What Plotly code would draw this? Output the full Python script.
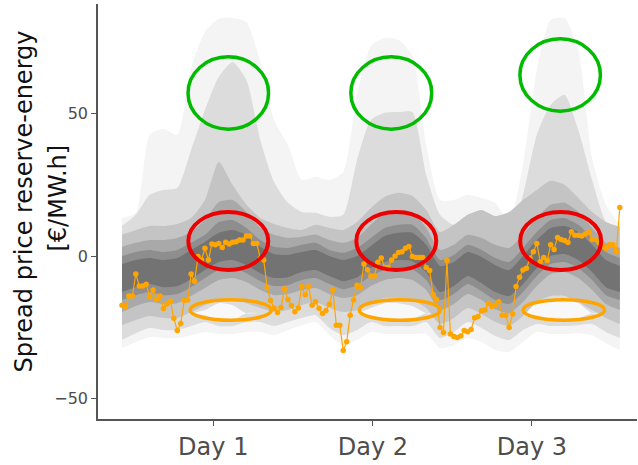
import numpy as np
import plotly.graph_objects as go

# ---- time axes (hours) ----
band_hours = list(range(0, 73, 2))
obs_hours = [i * 0.5 for i in range(145)]

# ---- quantile band boundaries (€/MW.h) ----
q_top_1 = [13.3, 15.1, 42.4, 44.5, 42.4, 65.8, 78.4, 83.0, 83.3, 81.9, 67.9, 47.6, 38.9, 26.6, 27.7, 26.6, 29.4, 56.4, 73.5,
           76.3, 75.6, 70.0, 38.9, 19.6, 19.6, 21.4, 20.3, 18.6, 11.9, 31.9, 65.1, 82.6, 83.3, 72.1, 34.3, 17.9, 10.9]
q_top_2 = [10.5, 14.4, 21.4, 23.1, 23.8, 37.1, 51.1, 62.7, 67.9, 61.6, 40.6, 25.9, 18.6, 15.4, 15.1, 13.7, 14.4, 33.6, 47.6,
           50.1, 50.4, 50.4, 28.4, 14.4, 10.9, 14.4, 15.4, 11.9, 7.4, 21.4, 42.4, 52.9, 56.4, 44.1, 26.6, 11.9, 8.1]
q_top_3 = [7.4, 9.1, 10.5, 10.5, 11.2, 13.3, 19.6, 32.9, 24.9, 17.9, 13.3, 11.2, 9.8, 9.1, 10.9, 9.8, 9.1, 11.9, 16.8,
           20.7, 22.1, 21.0, 16.1, 8.4, 10.9, 14.4, 16.1, 14.0, 15.4, 19.6, 23.1, 26.3, 24.9, 20.3, 15.4, 11.9, 10.2]
q_top_4 = [3.2, 4.6, 5.6, 5.6, 6.3, 8.4, 12.6, 18.9, 19.6, 15.4, 9.8, 7.4, 6.3, 6.7, 7.4, 5.6, 4.6, 6.3, 10.9,
           15.1, 16.1, 15.4, 9.8, 2.1, 3.9, 7.4, 6.3, 3.9, 2.8, 7.4, 13.3, 17.9, 18.6, 15.4, 9.8, 4.6, 2.8]
q_top_5 = [0.0, 1.4, 2.1, 1.4, 2.1, 4.6, 7.4, 11.9, 12.6, 9.8, 5.6, 3.2, 2.8, 3.9, 4.6, 2.1, 1.1, 2.8, 6.3,
           9.8, 10.9, 10.9, 6.3, -1.4, 0.35, 3.9, 2.1, -0.7, -2.1, 2.8, 8.4, 12.6, 13.3, 10.9, 6.3, 1.4, -0.7]
q_top_6 = [-2.8, -1.4, -0.7, -1.4, -0.7, 2.1, 4.9, 8.1, 9.1, 7.4, 3.2, 0.7, 0.35, 1.4, 2.1, 0.0, -1.4, 0.0, 3.5,
           7.0, 8.1, 8.1, 3.9, -3.5, -2.1, 1.4, -0.35, -3.2, -4.9, 0.0, 5.6, 9.8, 10.5, 8.4, 3.9, -1.4, -3.5]
q_bot_6 = [-12.6, -10.9, -9.8, -10.9, -10.5, -8.1, -4.9, -2.1, -1.4, -3.2, -6.0, -7.7, -7.4, -5.6, -4.9, -7.0, -8.8, -7.4, -4.2,
           -2.1, -1.4, -1.8, -5.6, -12.6, -10.5, -7.0, -9.5, -12.6, -14.0, -9.8, -4.2, 0.0, 0.7, -1.4, -5.6, -10.9, -12.6]
q_bot_5 = [-15.4, -13.7, -12.6, -13.7, -13.3, -10.9, -7.7, -4.9, -4.2, -6.0, -8.8, -10.5, -10.2, -8.4, -7.7, -9.8, -11.6, -10.2, -7.0,
           -4.9, -4.2, -4.6, -8.4, -15.4, -13.3, -9.8, -12.3, -15.4, -16.8, -12.6, -7.0, -2.8, -2.1, -4.2, -8.4, -13.7, -15.4]
q_bot_4 = [-19.6, -17.5, -16.1, -16.8, -16.5, -14.0, -11.2, -8.4, -7.7, -9.1, -11.9, -13.7, -13.3, -11.9, -11.2, -13.3, -14.7, -13.7, -10.5,
           -8.4, -7.7, -8.4, -11.9, -18.9, -16.8, -13.3, -15.4, -18.6, -20.0, -16.1, -10.5, -6.3, -5.6, -7.7, -11.9, -16.8, -18.9]
q_bot_3 = [-24.2, -22.4, -21.0, -21.7, -21.7, -19.6, -17.2, -15.4, -15.4, -16.5, -18.2, -19.6, -18.9, -17.2, -16.1, -18.2, -19.6, -18.9, -16.1,
           -14.7, -14.7, -15.4, -18.2, -23.8, -21.7, -18.2, -20.3, -23.1, -24.5, -21.0, -16.1, -14.0, -14.0, -16.1, -18.9, -21.7, -23.8]
q_bot_2 = [-29.4, -27.0, -25.2, -25.9, -25.9, -24.5, -23.1, -24.5, -24.5, -23.1, -23.1, -24.5, -23.1, -21.7, -20.7, -25.2, -27.7, -25.9, -23.1,
           -24.5, -24.5, -24.5, -23.1, -28.7, -26.6, -23.1, -25.2, -28.0, -29.4, -25.9, -23.8, -24.5, -24.5, -24.2, -23.8, -26.6, -28.7]
q_bot_1 = [-32.2, -30.1, -28.4, -28.7, -28.7, -27.7, -26.6, -27.3, -27.3, -26.6, -26.6, -27.7, -25.9, -24.2, -23.1, -27.7, -31.2, -29.4, -26.6,
           -27.3, -27.3, -27.3, -27.3, -32.2, -31.2, -28.7, -30.1, -32.9, -33.6, -30.1, -26.6, -27.3, -27.3, -27.0, -27.7, -30.5, -32.9]
# pale pocket inside the lower tail below each daily peak
pocket_top = [-20.0] * 6 + [-18.9, -16.5, -17.2] + [-20.0] * 9 + [-18.2, -16.5, -16.5, -17.5] + [-20.0] * 8 + \
             [-16.1, -15.1, -15.1, -16.5] + [-20.0] * 3
pocket_bot = [-20.0] * 6 + [-20.7, -22.4, -22.4] + [-20.0] * 9 + [-21.0, -22.4, -22.4, -22.0] + [-20.0] * 8 + \
             [-21.0, -22.0, -22.0, -21.7] + [-20.0] * 3

# ---- observed spread (€/MW.h), half-hourly ----
observed = [
    -17.2, -17.7, -14.0, -14.0, -6.3, -10.5, -10.5, -9.9, -14.2, -11.9,
    -15.2, -14.0, -18.4, -16.8, -15.8, -21.8, -26.1, -23.6, -15.6, -15.4,
    -6.3, -8.8, -0.2, -1.4, 2.7, -1.4, 4.2, 3.9, 4.4, 3.0,
    4.8, 4.2, 4.8, 5.0, 5.6, 5.6, 7.0, 7.0, 4.4, 4.4,
    -0.8, -1.4, -11.0, -15.6, -18.3, -19.8, -18.0, -11.5, -15.2, -17.3,
    -19.5, -18.2, -10.7, -13.6, -10.7, -17.2, -16.0, -18.3, -20.1, -19.1,
    -16.9, -11.9, -24.2, -24.2, -33.1, -30.0, -20.7, -15.4, -10.2, -11.1,
    -2.8, -4.8, -7.0, -7.0, -2.2, -0.7, -4.0, -4.0, -1.4, 0.0,
    1.2, 1.5, 2.7, 3.3, -0.2, -0.5, -0.5, -0.5, -4.0, -5.1,
    -13.6, -15.2, -25.0, -26.8, -1.6, -27.3, -28.2, -28.5, -28.0, -26.1,
    -26.5, -25.7, -21.6, -21.2, -19.2, -18.9, -16.6, -17.7, -17.2, -16.0,
    -20.7, -20.7, -25.0, -20.3, -10.7, -7.4, -4.9, -4.3, -0.8, 1.5,
    4.4, -2.0, -0.5, -1.6, 3.9, 2.3, 6.5, 5.8, 5.4, 4.7,
    8.5, 7.3, 7.3, 7.0, 7.7, 8.3, 5.8, 5.8, 4.6, 3.5,
    2.7, 3.9, 3.9, 1.5, 17.0,
]

# ---- axis ticks ----
day_tick_hours = [13.2, 36.3, 59.3]
day_tick_labels = ["Day 1", "Day 2", "Day 3"]
y_tick_values = [-50, 0, 50]

# ---- highlight ellipses (x0, x1, y0, y1) in data units ----
green_ellipses = [(9.55, 21.2, 44.4, 69.7), (33.1, 44.8, 44.4, 69.7), (57.55, 69.2, 50.7, 76.0)]
red_ellipses = [(9.6, 21.15, -4.9, 15.4), (33.9, 45.45, -4.9, 15.4), (57.6, 69.3, -4.9, 15.4)]
orange_ellipses = [(9.85, 21.6, -22.5, -15.3), (34.3, 46.05, -22.5, -15.3), (58.0, 69.8, -22.5, -15.3)]

band_pairs = [(q_top_1, q_bot_1, "#f4f4f4"), (q_top_2, q_bot_2, "#dcdcdc"), (pocket_top, pocket_bot, "#f8f8f8"),
              (q_top_3, q_bot_3, "#c4c4c4"), (q_top_4, q_bot_4, "#a9a9a9"), (q_top_5, q_bot_5, "#8e8e8e"),
              (q_top_6, q_bot_6, "#737373")]

fig = go.Figure()
for top, bot, col in band_pairs:
    assert len(top) == len(band_hours) and len(bot) == len(band_hours)
    fig.add_trace(go.Scatter(x=band_hours, y=bot, mode="lines", line=dict(width=0, color=col, shape="spline", smoothing=0.6),
                             showlegend=False, hoverinfo="skip"))
    fig.add_trace(go.Scatter(x=band_hours, y=top, mode="lines", line=dict(width=0, color=col, shape="spline", smoothing=0.6),
                             fill="tonexty", fillcolor=col, showlegend=False, hoverinfo="skip"))

assert len(observed) == len(obs_hours)
fig.add_trace(go.Scatter(x=obs_hours, y=observed, mode="lines+markers",
                         line=dict(color="#FFA500", width=1.2), marker=dict(color="#FFA500", size=5.5),
                         showlegend=False))

def add_ellipses(lst, color, width):
    for x0, x1, y0, y1 in lst:
        fig.add_shape(type="circle", xref="x", yref="y", x0=x0, x1=x1, y0=y0, y1=y1,
                      line=dict(color=color, width=width), layer="above")

add_ellipses(green_ellipses, "#00BB00", 3.5)
add_ellipses(red_ellipses, "#EE0000", 4)
add_ellipses(orange_ellipses, "#FFA500", 3.5)

FONT = "DejaVu Sans"
fig.update_layout(
    width=638, height=465,
    margin=dict(l=98, r=1, t=4, b=46, autoexpand=False),
    paper_bgcolor="white", plot_bgcolor="white",
    font=dict(family=FONT, color="#4d4d4d"),
    xaxis=dict(range=[-3.47, 74.49], tickvals=day_tick_hours, ticktext=day_tick_labels, automargin=False,
               showgrid=False, zeroline=False, showline=True, linecolor="#555555", linewidth=1.5,
               ticks="outside", ticklen=5, tickcolor="#555555", tickfont=dict(size=24, color="#4d4d4d")),
    yaxis=dict(range=[-57.05, 88.2], tickvals=y_tick_values, automargin=False,
               showgrid=False, zeroline=False, showline=True, linecolor="#555555", linewidth=1.5,
               ticks="outside", ticklen=5, tickcolor="#555555", tickfont=dict(size=16, color="#4d4d4d")),
    annotations=[
        dict(text="Spread price reserve-energy", xref="paper", yref="paper", x=-0.1364, y=0.5253,
             xanchor="center", yanchor="middle", textangle=-90, showarrow=False,
             font=dict(family=FONT, size=24, color="#111111")),
        dict(text="[€/MW.h]", xref="paper", yref="paper", x=-0.0742, y=0.5313,
             xanchor="center", yanchor="middle", textangle=-90, showarrow=False,
             font=dict(family=FONT, size=24, color="#111111")),
    ],
)

fig.write_html("out.html", config={"displayModeBar": False},
               post_script="document.body.style.margin='0px';document.body.style.padding='0px';")
